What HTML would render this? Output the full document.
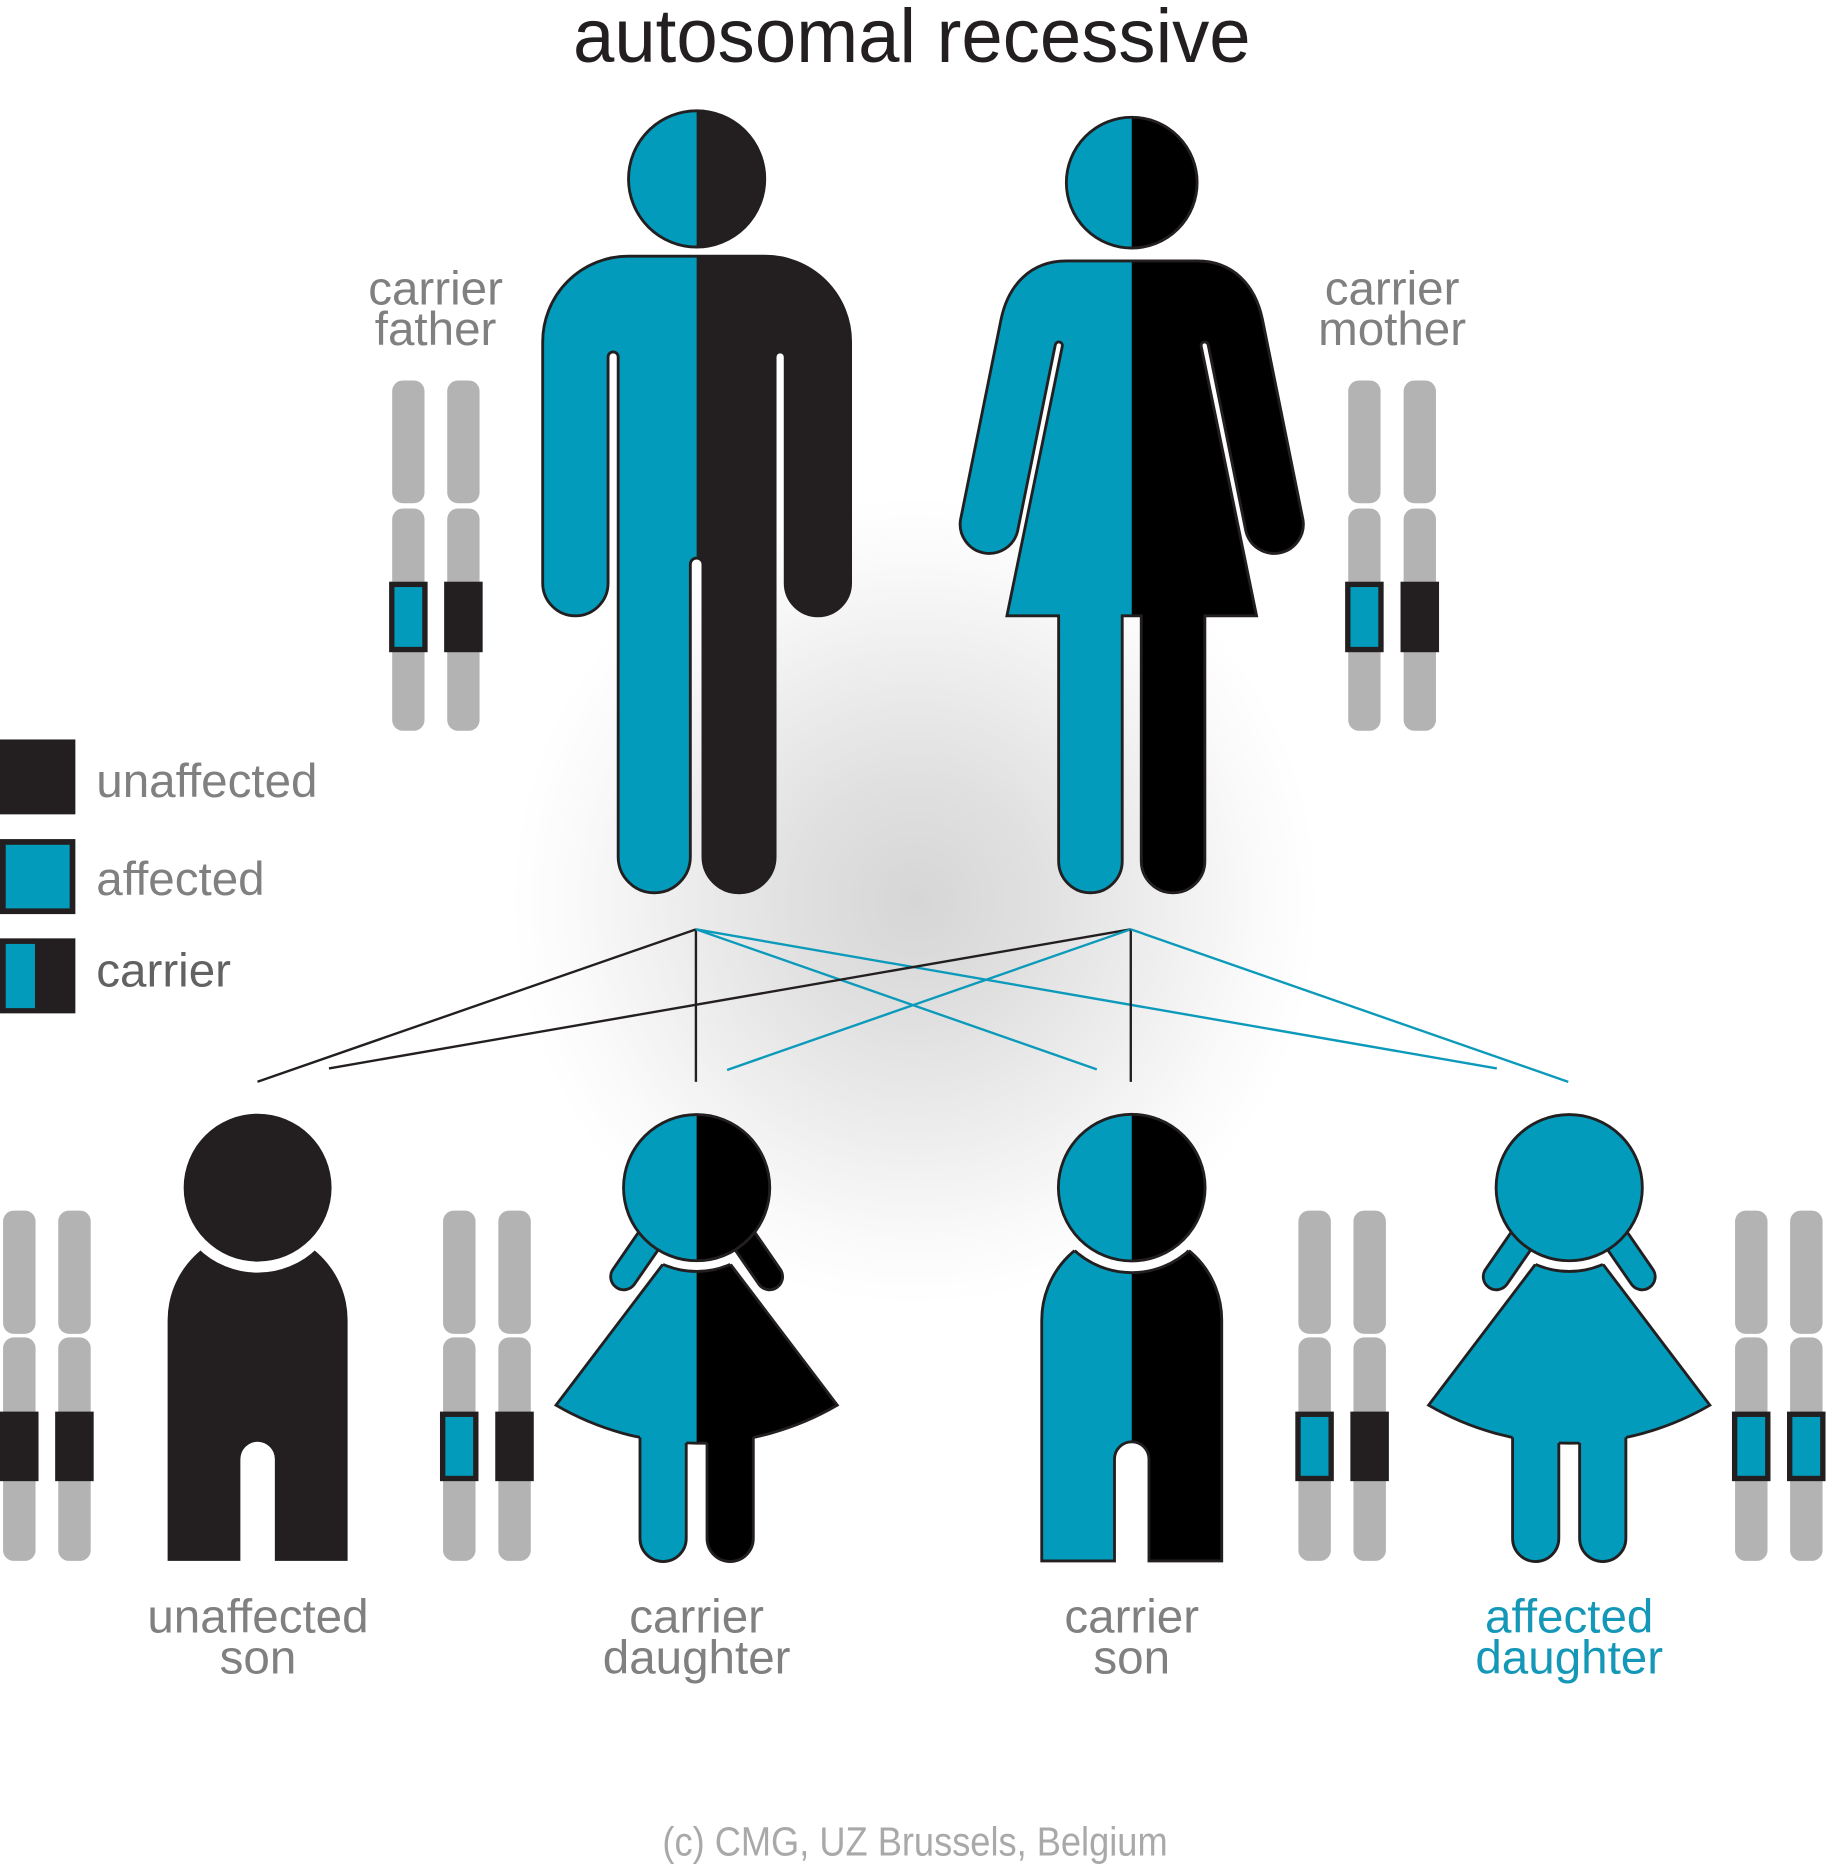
<!DOCTYPE html>
<html><head><meta charset="utf-8"><style>
html,body{margin:0;padding:0;background:#fff;}
svg{display:block;}
text{font-family:"Liberation Sans",sans-serif;}
</style></head><body>
<svg width="1826" height="1866" viewBox="0 0 1536 1569.6" xmlns="http://www.w3.org/2000/svg">
<defs>
  <radialGradient id="glow" gradientUnits="userSpaceOnUse" cx="770" cy="758" r="340">
    <stop offset="0" stop-color="#d6d6d6"/>
    <stop offset="0.3" stop-color="#e0e0e0"/>
    <stop offset="0.6" stop-color="#eeeeee"/>
    <stop offset="0.85" stop-color="#fafafa"/>
    <stop offset="1" stop-color="#ffffff"/>
  </radialGradient>
  <path id="fbody" d="M528.5 215.5 H643.5 A72 72 0 0 1 715.5 287.5 V490.5 A27.5 27.5 0 0 1 660.5 490.5 V300.25 A4.25 4.25 0 0 0 652 300.25 V720.65 A30.35 30.35 0 0 1 591.3 720.65 V474.7 A5.3 5.3 0 0 0 580.7 474.7 V720.65 A30.35 30.35 0 0 1 520 720.65 V300.25 A4.25 4.25 0 0 0 511.5 300.25 V490.5 A27.5 27.5 0 0 1 456.5 490.5 V287.5 A72 72 0 0 1 528.5 215.5 Z"/>
  <path id="mbody" d="M897 219.5 H1007 C1037 219.5 1056 239.6 1062 269 L1096 437 A24.5 24.5 0 0 1 1048 446.7 L1016.3 290 A3 3 0 0 0 1010.4 291.2 L1057 518 H1013.5 V724.25 A26.75 26.75 0 0 1 960 724.25 V518 H944 V724.25 A26.75 26.75 0 0 1 890.5 724.25 V518 H847 L893.6 291.2 A3 3 0 0 0 887.7 290 L856 446.7 A24.5 24.5 0 0 1 808 437 L842 269 C848 239.6 867 219.5 897 219.5 Z"/>
  <clipPath id="fR"><rect x="586" y="0" width="300" height="800"/></clipPath>
  <clipPath id="mR"><rect x="952" y="0" width="300" height="800"/></clipPath>
  <!-- local child shapes -->
  <path id="dress" d="M0 27 L118.3 183 A234.7 234.7 0 0 1 -118.3 183 Z"/>
  <path id="sbody" d="M-75.7 314 V111.4 A75.7 75.7 0 0 1 75.7 111.4 V314 H14.5 V228.3 A14.5 14.5 0 0 0 -14.5 228.3 V314 Z"/>
  <clipPath id="locR"><rect x="0" y="-200" width="300" height="600"/></clipPath>
  <clipPath id="dressClip"><path d="M0 27 L118.3 183 A234.7 234.7 0 0 1 -118.3 183 Z"/></clipPath>
  <clipPath id="sonClip"><path d="M-75.7 314 V111.4 A75.7 75.7 0 0 1 75.7 111.4 V314 H14.5 V228.3 A14.5 14.5 0 0 0 -14.5 228.3 V314 Z"/></clipPath>
  <mask id="neckD" maskUnits="userSpaceOnUse" x="-300" y="-300" width="600" height="700">
    <rect x="-300" y="-300" width="600" height="700" fill="#fff"/>
    <circle cx="0" cy="0" r="70.5" fill="#000"/>
  </mask>
  <mask id="neckS" maskUnits="userSpaceOnUse" x="-300" y="-300" width="600" height="700">
    <rect x="-300" y="-300" width="600" height="700" fill="#fff"/>
    <circle cx="0" cy="0" r="71.5" fill="#000"/>
  </mask>
</defs>

<rect x="0" y="0" width="1536" height="1569.6" fill="#fff"/>
<rect x="0" y="380" width="1536" height="800" fill="url(#glow)"/>

<!-- Title -->
<text x="767" y="52" text-anchor="middle" font-size="64" fill="#231f20" textLength="570" lengthAdjust="spacingAndGlyphs">autosomal recessive</text>

<!-- Father -->
<use href="#fbody" fill="#029bbb"/>
<use href="#fbody" fill="#231f20" clip-path="url(#fR)"/>
<use href="#fbody" fill="none" stroke="#231f20" stroke-width="2.4"/>
<circle cx="586" cy="150.5" r="57.3" fill="#029bbb"/>
<circle cx="586" cy="150.5" r="57.3" fill="#231f20" clip-path="url(#fR)"/>
<circle cx="586" cy="150.5" r="57.3" fill="none" stroke="#231f20" stroke-width="2.4"/>

<!-- Mother -->
<use href="#mbody" fill="#029bbb"/>
<use href="#mbody" fill="#000" clip-path="url(#mR)"/>
<use href="#mbody" fill="none" stroke="#231f20" stroke-width="2.4"/>
<circle cx="952" cy="153.6" r="55" fill="#029bbb"/>
<circle cx="952" cy="153.6" r="55" fill="#000" clip-path="url(#mR)"/>
<circle cx="952" cy="153.6" r="55" fill="none" stroke="#231f20" stroke-width="2.4"/>

<!-- Parent labels -->
<text x="366.4" y="256" text-anchor="middle" font-size="40" fill="#808080">carrier</text>
<text x="366.4" y="290.4" text-anchor="middle" font-size="40" fill="#808080">father</text>
<text x="1171" y="256" text-anchor="middle" font-size="40" fill="#808080">carrier</text>
<text x="1171" y="290.4" text-anchor="middle" font-size="40" fill="#808080">mother</text>

<!-- Parent chromosomes: father -->
<g fill="#b3b3b3">
  <rect x="329.9" y="320" width="27.2" height="103.3" rx="9"/>
  <rect x="329.9" y="427.7" width="27.2" height="187" rx="9"/>
  <rect x="376.2" y="320" width="27.2" height="103.3" rx="9"/>
  <rect x="376.2" y="427.7" width="27.2" height="187" rx="9"/>
  <rect x="1134.1" y="320" width="27.2" height="103.3" rx="9"/>
  <rect x="1134.1" y="427.7" width="27.2" height="187" rx="9"/>
  <rect x="1180.7" y="320" width="27.2" height="103.3" rx="9"/>
  <rect x="1180.7" y="427.7" width="27.2" height="187" rx="9"/>
</g>
<rect x="329.55" y="491.55" width="27.9" height="54.8" fill="#029bbb" stroke="#231f20" stroke-width="4.5"/>
<rect x="373.6" y="489.3" width="32.4" height="59.3" fill="#231f20"/>
<rect x="1133.75" y="491.55" width="27.9" height="54.8" fill="#029bbb" stroke="#231f20" stroke-width="4.5"/>
<rect x="1178.1" y="489.3" width="32.4" height="59.3" fill="#231f20"/>

<!-- Legend -->
<rect x="0" y="622" width="63.4" height="63" fill="#231f20"/>
<rect x="2.4" y="708.2" width="58.6" height="58.3" fill="#029bbb" stroke="#231f20" stroke-width="4.8"/>
<rect x="0" y="789.3" width="63.4" height="63.1" fill="#231f20"/>
<rect x="4.8" y="794" width="24.6" height="54" fill="#029bbb"/>
<text x="81" y="670.5" font-size="40" fill="#808080">unaffected</text>
<text x="81" y="753" font-size="40" fill="#808080">affected</text>
<text x="81" y="830" font-size="40" fill="#626262">carrier</text>

<!-- Connector lines -->
<g stroke-width="2" fill="none" stroke-linecap="butt">
  <line x1="585.4" y1="781.7" x2="216.6" y2="909.9" stroke="#231f20"/>
  <line x1="585.4" y1="781.7" x2="585.4" y2="910" stroke="#231f20"/>
  <line x1="585.4" y1="781.7" x2="922.6" y2="899.5" stroke="#0c9abb"/>
  <line x1="585.4" y1="781.7" x2="1259.1" y2="898.7" stroke="#0c9abb"/>
  <line x1="951.2" y1="781.7" x2="276.7" y2="898.7" stroke="#231f20"/>
  <line x1="951.2" y1="781.7" x2="611.6" y2="900" stroke="#0c9abb"/>
  <line x1="951.2" y1="781.7" x2="951.2" y2="910" stroke="#231f20"/>
  <line x1="951.2" y1="781.7" x2="1319.2" y2="910" stroke="#0c9abb"/>
</g>

<!-- Child chromosomes -->
<g fill="#b3b3b3">
  <rect x="2.6" y="1018.3" width="27.3" height="103.7" rx="9"/>
  <rect x="2.6" y="1125" width="27.3" height="188" rx="9"/>
  <rect x="49" y="1018.3" width="27.3" height="103.7" rx="9"/>
  <rect x="49" y="1125" width="27.3" height="188" rx="9"/>

  <rect x="372.7" y="1018.3" width="27.3" height="103.7" rx="9"/>
  <rect x="372.7" y="1125" width="27.3" height="188" rx="9"/>
  <rect x="419.2" y="1018.3" width="27.3" height="103.7" rx="9"/>
  <rect x="419.2" y="1125" width="27.3" height="188" rx="9"/>

  <rect x="1092.2" y="1018.3" width="27.3" height="103.7" rx="9"/>
  <rect x="1092.2" y="1125" width="27.3" height="188" rx="9"/>
  <rect x="1138.5" y="1018.3" width="27.3" height="103.7" rx="9"/>
  <rect x="1138.5" y="1125" width="27.3" height="188" rx="9"/>

  <rect x="1459.5" y="1018.3" width="27.3" height="103.7" rx="9"/>
  <rect x="1459.5" y="1125" width="27.3" height="188" rx="9"/>
  <rect x="1505.8" y="1018.3" width="27.3" height="103.7" rx="9"/>
  <rect x="1505.8" y="1125" width="27.3" height="188" rx="9"/>
</g>
<!-- bands -->
<rect x="0" y="1187.4" width="32.4" height="58.5" fill="#231f20"/>
<rect x="46.4" y="1187.4" width="32.4" height="58.5" fill="#231f20"/>
<rect x="372.35" y="1189.65" width="27.9" height="54" fill="#029bbb" stroke="#231f20" stroke-width="4.5"/>
<rect x="416.6" y="1187.4" width="32.4" height="58.5" fill="#231f20"/>
<rect x="1091.85" y="1189.65" width="27.9" height="54" fill="#029bbb" stroke="#231f20" stroke-width="4.5"/>
<rect x="1135.9" y="1187.4" width="32.4" height="58.5" fill="#231f20"/>
<rect x="1459.15" y="1189.65" width="27.9" height="54" fill="#029bbb" stroke="#231f20" stroke-width="4.5"/>
<rect x="1505.45" y="1189.65" width="27.9" height="54" fill="#029bbb" stroke="#231f20" stroke-width="4.5"/>

<!-- Unaffected son -->
<g transform="translate(216.7 999)">
  <g mask="url(#neckS)">
    <use href="#sbody" fill="#231f20"/>
  </g>
  <circle r="62.2" fill="#231f20"/>
</g>

<!-- Carrier daughter -->
<g transform="translate(586 999)">
  <rect x="-11" y="-11" width="70" height="22" rx="11" transform="translate(-61.3 74.9) rotate(-55.4)" fill="#029bbb" stroke="#231f20" stroke-width="2.4"/>
  <rect x="-11" y="-11" width="70" height="22" rx="11" transform="translate(61.3 74.9) rotate(-124.6)" fill="#000" stroke="#231f20" stroke-width="2.4"/>
  <g mask="url(#neckD)">
    <use href="#dress" fill="#029bbb"/>
    <use href="#dress" fill="#000" clip-path="url(#locR)"/>
    <use href="#dress" fill="none" stroke="#231f20" stroke-width="2.4"/>
  </g>
  <circle r="70.5" fill="none" stroke="#231f20" stroke-width="2.4" clip-path="url(#dressClip)"/>
  <path d="M-47.65 205 V295.05 A19.45 19.45 0 0 0 -8.75 295.05 V205 Z" fill="#029bbb"/>
  <path d="M8.75 205 V295.05 A19.45 19.45 0 0 0 47.65 295.05 V205 Z" fill="#000"/>
  <path d="M-47.65 210.1 V295.05 A19.45 19.45 0 0 0 -8.75 295.05 V214.8" fill="none" stroke="#231f20" stroke-width="2.4"/>
  <path d="M8.75 214.8 V295.05 A19.45 19.45 0 0 0 47.65 295.05 V210.1" fill="none" stroke="#231f20" stroke-width="2.4"/>
  <circle r="61.5" fill="#029bbb"/>
  <circle r="61.5" fill="#000" clip-path="url(#locR)"/>
  <circle r="61.5" fill="none" stroke="#231f20" stroke-width="2.4"/>
</g>

<!-- Carrier son -->
<g transform="translate(952 999)">
  <g mask="url(#neckS)">
    <use href="#sbody" fill="#029bbb"/>
    <use href="#sbody" fill="#000" clip-path="url(#locR)"/>
    <use href="#sbody" fill="none" stroke="#231f20" stroke-width="2.4"/>
  </g>
  <circle r="71.5" fill="none" stroke="#231f20" stroke-width="2.4" clip-path="url(#sonClip)"/>
  <circle r="61.7" fill="#029bbb"/>
  <circle r="61.7" fill="#000" clip-path="url(#locR)"/>
  <circle r="61.7" fill="none" stroke="#231f20" stroke-width="2.4"/>
</g>

<!-- Affected daughter -->
<g transform="translate(1320 999)">
  <rect x="-11" y="-11" width="70" height="22" rx="11" transform="translate(-61.3 74.9) rotate(-55.4)" fill="#029bbb" stroke="#231f20" stroke-width="2.4"/>
  <rect x="-11" y="-11" width="70" height="22" rx="11" transform="translate(61.3 74.9) rotate(-124.6)" fill="#029bbb" stroke="#231f20" stroke-width="2.4"/>
  <g mask="url(#neckD)">
    <use href="#dress" fill="#029bbb" stroke="#231f20" stroke-width="2.4"/>
  </g>
  <circle r="70.5" fill="none" stroke="#231f20" stroke-width="2.4" clip-path="url(#dressClip)"/>
  <path d="M-47.65 205 V295.05 A19.45 19.45 0 0 0 -8.75 295.05 V205 Z" fill="#029bbb"/>
  <path d="M8.75 205 V295.05 A19.45 19.45 0 0 0 47.65 295.05 V205 Z" fill="#029bbb"/>
  <path d="M-47.65 210.1 V295.05 A19.45 19.45 0 0 0 -8.75 295.05 V214.8" fill="none" stroke="#231f20" stroke-width="2.4"/>
  <path d="M8.75 214.8 V295.05 A19.45 19.45 0 0 0 47.65 295.05 V210.1" fill="none" stroke="#231f20" stroke-width="2.4"/>
  <circle r="61.5" fill="#029bbb" stroke="#231f20" stroke-width="2.4"/>
</g>

<!-- Child labels -->
<text x="217" y="1373.4" text-anchor="middle" font-size="40" fill="#808080">unaffected</text>
<text x="217" y="1407.8" text-anchor="middle" font-size="40" fill="#808080">son</text>
<text x="586" y="1373.4" text-anchor="middle" font-size="40" fill="#808080">carrier</text>
<text x="586" y="1407.8" text-anchor="middle" font-size="40" fill="#808080">daughter</text>
<text x="952" y="1373.4" text-anchor="middle" font-size="40" fill="#808080">carrier</text>
<text x="952" y="1407.8" text-anchor="middle" font-size="40" fill="#808080">son</text>
<text x="1320" y="1373.4" text-anchor="middle" font-size="40" fill="#1598b8">affected</text>
<text x="1320" y="1407.8" text-anchor="middle" font-size="40" fill="#1598b8">daughter</text>

<!-- Footer -->
<text x="769.7" y="1561" text-anchor="middle" font-size="34" fill="#a9a9a9" textLength="425" lengthAdjust="spacingAndGlyphs">(c) CMG, UZ Brussels, Belgium</text>
</svg>
</body></html>
